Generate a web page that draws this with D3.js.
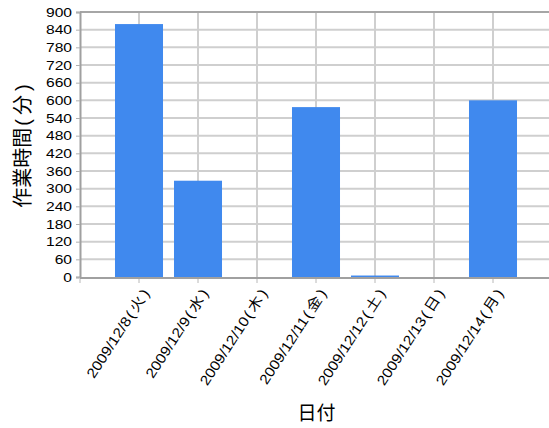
<!DOCTYPE html>
<html>
<head>
<meta charset="utf-8">
<script src="https://cdn.jsdelivr.net/npm/d3@7/dist/d3.min.js"></script>
<style>
  html, body { margin: 0; padding: 0; background: #fff; }
  svg { display: block; }
  text { font-family: "Liberation Sans", Arial, "Noto Sans CJK JP", sans-serif; fill: #000; }
</style>
</head>
<body>
<svg id="chart" width="549" height="428"></svg>
<script>
// Work time per day (minutes)
const dates = [
  "2009/12/8(火)", "2009/12/9(水)", "2009/12/10(木)", "2009/12/11(金)",
  "2009/12/12(土)", "2009/12/13(日)", "2009/12/14(月)"
];
const minutes = [859, 327, 0, 577, 5, 0, 600];
const yTicks = d3.range(0, 901, 60);
const xTitle = "日付";
const yTitle = "作業時間(分)";

const svg = d3.select("#chart");
const margin = { left: 80, top: 12, right: 0, bottom: 151 };
const W = 549, H = 428;
const plotL = margin.left, plotT = margin.top, plotR = W - margin.right, plotB = H - margin.bottom;

const step = 59;
const x = d3.scaleBand()
  .domain(dates)
  .range([plotL + step / 2, plotL + step / 2 + step * dates.length])
  .paddingInner(0.186)
  .paddingOuter(0.093);
const center = d => x(d) + x.bandwidth() / 2;

const y = d3.scaleLinear().domain([0, 900]).range([plotB, plotT]);

// split "label(X)" into tspans so the parentheses get some room
function withParens(sel, text, gap) {
  const m = text.match(/^(.*)\((.)\)$/);
  sel.text(null);
  sel.append("tspan").text(m[1]);
  sel.append("tspan").attr("dx", gap * 0.5).text("(");
  sel.append("tspan").attr("dx", gap).text(m[2]);
  sel.append("tspan").attr("dx", gap).text(")");
}

// horizontal grid
svg.append("g").selectAll("line").data(yTicks.filter(v => v > 0 && v < 900)).join("line")
  .attr("x1", plotL).attr("x2", plotR)
  .attr("y1", d => y(d)).attr("y2", d => y(d))
  .attr("stroke", "#cfcfcf").attr("stroke-width", 2);

// vertical grid at category centers
svg.append("g").selectAll("line").data(dates).join("line")
  .attr("x1", d => center(d)).attr("x2", d => center(d))
  .attr("y1", plotT).attr("y2", plotB)
  .attr("stroke", "#cfcfcf").attr("stroke-width", 2);

// top frame line
svg.append("line")
  .attr("x1", plotL).attr("x2", plotR).attr("y1", y(900)).attr("y2", y(900))
  .attr("stroke", "#a6a6a6").attr("stroke-width", 2);

// baseline (under the bars)
svg.append("line")
  .attr("x1", plotL).attr("x2", plotR).attr("y1", plotB + 1).attr("y2", plotB + 1)
  .attr("stroke", "#a0a0a0").attr("stroke-width", 2);

// bars
svg.append("g").selectAll("rect").data(dates).join("rect")
  .attr("x", d => x(d))
  .attr("width", x.bandwidth())
  .attr("y", (d, i) => y(minutes[i]))
  .attr("height", (d, i) => y(0) - y(minutes[i]))
  .attr("fill", "#4089ee");

// y axis
const yAxis = svg.append("g")
  .attr("transform", `translate(${plotL},0)`)
  .call(d3.axisLeft(y).tickValues(yTicks).tickSize(4).tickPadding(3));
yAxis.select(".domain").attr("stroke", "#a0a0a0").attr("stroke-width", 2);
yAxis.selectAll(".tick line").attr("stroke", "#b0b0b0");
yAxis.selectAll(".tick text")
  .style("font-size", "12.5px")
  .attr("fill", "#000")
  .attr("x", 0)
  .attr("transform", "translate(-8,0) scale(1.25,1)");

// x axis with boundary ticks between categories
const xAxis = svg.append("g")
  .attr("transform", `translate(0,${plotB})`)
  .call(d3.axisBottom(x).tickSize(0).tickPadding(0));
xAxis.select(".domain").remove();
svg.append("g").selectAll("line").data(d3.range(dates.length + 1)).join("line")
  .attr("x1", i => plotL + i * step).attr("x2", i => plotL + i * step)
  .attr("y1", plotB + 2).attr("y2", plotB + 6)
  .attr("stroke", "#b8b8b8");
xAxis.selectAll(".tick text")
  .style("font-size", "14px")
  .attr("fill", "#000")
  .attr("text-anchor", "end")
  .attr("dy", null).attr("y", null)
  .attr("transform", "translate(11,16) rotate(-57) scale(1.12,1)")
  .each(function (d) { withParens(d3.select(this), d, 2.5); });

// axis titles
svg.append("text")
  .attr("x", (plotL + plotR) / 2 + 2).attr("y", 420)
  .attr("text-anchor", "middle")
  .style("font-size", "19px")
  .text(xTitle);

svg.append("text")
  .attr("transform", `translate(30,146) rotate(-90)`)
  .attr("text-anchor", "middle")
  .style("font-size", "20px")
  .call(t => withParens(t, yTitle, 4));
</script>
</body>
</html>
